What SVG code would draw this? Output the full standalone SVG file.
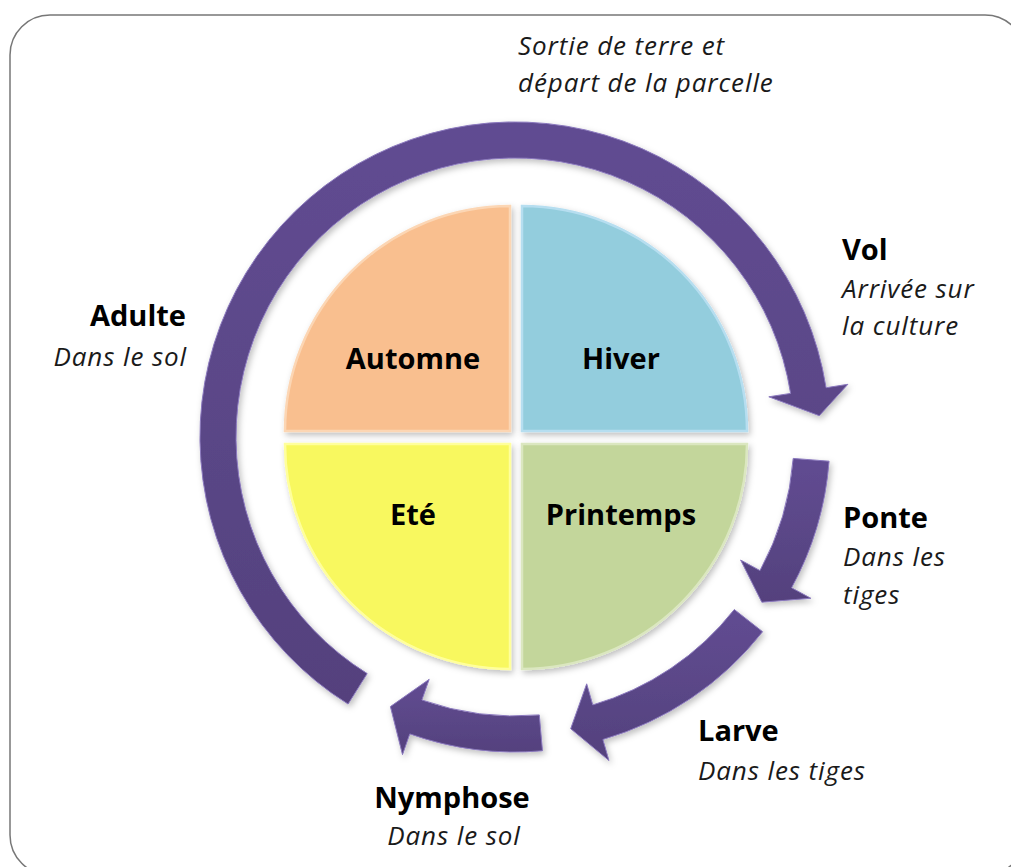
<svg xmlns="http://www.w3.org/2000/svg" width="1011" height="867" viewBox="0 0 1011 867">
  <defs>
    <filter id="shadow" x="-10%" y="-10%" width="120%" height="120%">
      <feDropShadow dx="2" dy="3" stdDeviation="3" flood-color="#000" flood-opacity="0.25"/>
    </filter>
    <linearGradient id="purple" x1="0" y1="0" x2="0" y2="1">
      <stop offset="0" stop-color="#614c92"/>
      <stop offset="1" stop-color="#54417d"/>
    </linearGradient>
    <style>
      .frame { fill: #fff; stroke: #777; stroke-width: 1.5; }
      .quad { stroke-width: 2.5; filter: url(#shadow); }
      .arrow { fill: url(#purple); stroke: #8a78bd; stroke-width: 1; filter: url(#shadow); }
      .qlabel { font-family: "Open Sans", "Liberation Sans", sans-serif; font-weight: bold; font-size: 29px; fill: #000; text-anchor: middle; }
      .head { font-family: "Open Sans", "Liberation Sans", sans-serif; font-weight: bold; font-size: 29px; fill: #000; }
      .sub { font-family: "Open Sans", "Liberation Sans", sans-serif; font-style: italic; font-size: 26px; letter-spacing: 0.9px; fill: #1a1a1a; }
    </style>
  </defs>

  <rect class="frame" x="10" y="15" width="1015" height="860" rx="40" ry="40"/>

  <!-- season quadrants -->
  <g id="automne">
    <path class="quad" d="M510,431 L285,431 A225,225 0 0 1 510,206 Z" fill="#f9bf8f" stroke="#fcd6b4"/>
    <text class="qlabel" x="413" y="369">Automne</text>
  </g>
  <g id="hiver">
    <path class="quad" d="M522,431 L522,206 A225,225 0 0 1 747,431 Z" fill="#93cddd" stroke="#b6def0"/>
    <text class="qlabel" x="621" y="369">Hiver</text>
  </g>
  <g id="ete">
    <path class="quad" d="M510,444 L510,669 A225,225 0 0 1 285,444 Z" fill="#f8f85e" stroke="#ffff9c"/>
    <text class="qlabel" x="413" y="525">Eté</text>
  </g>
  <g id="printemps">
    <path class="quad" d="M522,444 L747,444 A225,225 0 0 1 522,669 Z" fill="#c3d69b" stroke="#dbe7c0"/>
    <text class="qlabel" x="621" y="525">Printemps</text>
  </g>

  <!-- life-cycle arrows around the seasons -->
  <g id="connectors">
    <path id="arrow-vol" class="arrow" d="M348.1,704.1 A315,315 0 1 1 826.1,387.7 L847.9,384.3 L819.3,415.7 L768.8,396.8 L790.6,393.4 A279,279 0 1 0 367.2,673.6 Z"/>
    <path id="arrow-ponte" class="arrow" d="M829.1,461.2 A315,315 0 0 1 791.6,587.8 L810.9,598.3 L761.8,602.2 L740.6,560.0 L760.0,570.6 A279,279 0 0 0 793.2,458.4 Z"/>
    <path id="arrow-larve" class="arrow" d="M762.6,631.7 A315,315 0 0 1 602.9,739.5 L609.0,760.6 L570.7,728.7 L586.7,683.8 L592.8,704.9 A279,279 0 0 0 734.3,609.5 Z"/>
    <path id="arrow-nymphose" class="arrow" d="M542.5,750.8 A315,315 0 0 1 409.8,733.9 L402.5,754.7 L390.4,706.6 L429.2,679.3 L421.9,700.0 A279,279 0 0 0 539.3,714.9 Z"/>
  </g>

  <!-- stage labels -->
  <g id="label-sortie">
    <text class="sub" x="518" y="55">Sortie de terre et</text>
    <text class="sub" x="518" y="92">départ de la parcelle</text>
  </g>
  <g id="label-vol">
    <text class="head" x="842" y="260">Vol</text>
    <text class="sub" x="842" y="298">Arrivée sur</text>
    <text class="sub" x="842" y="335">la culture</text>
  </g>
  <g id="label-adulte">
    <text class="head" x="186" y="326" text-anchor="end">Adulte</text>
    <text class="sub" x="187" y="366" text-anchor="end">Dans le sol</text>
  </g>
  <g id="label-ponte">
    <text class="head" x="843" y="528">Ponte</text>
    <text class="sub" x="843" y="566">Dans les</text>
    <text class="sub" x="843" y="604">tiges</text>
  </g>
  <g id="label-larve">
    <text class="head" x="698" y="741">Larve</text>
    <text class="sub" x="698" y="780">Dans les tiges</text>
  </g>
  <g id="label-nymphose">
    <text class="head" x="452" y="808" text-anchor="middle">Nymphose</text>
    <text class="sub" x="454" y="845" text-anchor="middle">Dans le sol</text>
  </g>
</svg>
